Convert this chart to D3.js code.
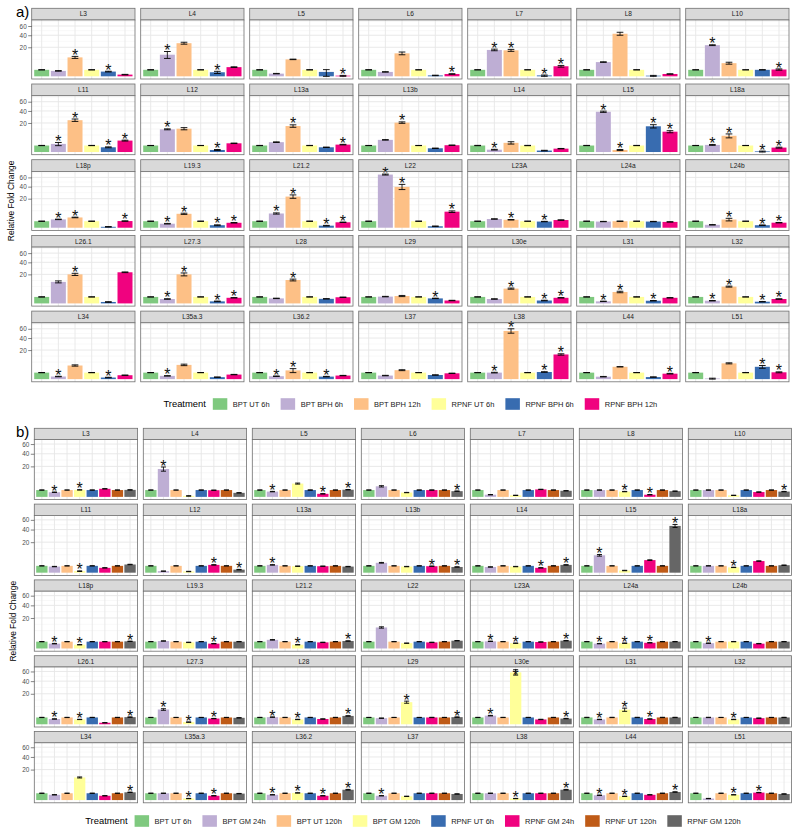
<!DOCTYPE html>
<html><head><meta charset="utf-8">
<script src="https://cdn.jsdelivr.net/npm/d3@7"></script>
<style>body{margin:0;background:#fff} svg{display:block;font-family:"Liberation Sans",Arial,Helvetica,sans-serif}</style>
</head><body>
<script>
// ---------------- data ----------------
const genes = ["L3","L4","L5","L6","L7","L8","L10","L11","L12","L13a","L13b","L14","L15","L18a","L18p","L19.3","L21.2","L22","L23A","L24a","L24b","L26.1","L27.3","L28","L29","L30e","L31","L32","L34","L35a.3","L36.2","L37","L38","L44","L51"];
const yTickValues = [20, 40, 60];

const seriesA = ["BPT UT 6h","BPT BPH 6h","BPT BPH 12h","RPNF UT 6h","RPNF BPH 6h","RPNF BPH 12h"];
const seriesB = ["BPT UT 6h","BPT GM 24h","BPT UT 120h","BPT GM 120h","RPNF UT 6h","RPNF GM 24h","RPNF UT 120h","RPNF GM 120h"];
const coloursA = ["#7fc97f","#beaed4","#fdc086","#ffff99","#386cb0","#f0027f"];
const coloursB = ["#7fc97f","#beaed4","#fdc086","#ffff99","#386cb0","#f0027f","#bf5b17","#666666"];

// control (calibrator) groups: fold change 1
const controlFold = [1,1,1,1,1,1,1, 1,1,1,1,1,1,1, 1,1,1,1,1,1,1, 1,1,1,1,1,1,1, 1,1,1,1,1,1,1];
const controlErr  = [.04,.03,.05,.04,.03,.04,.03, .04,.03,.04,.03,.05,.04,.03, .04,.03,.04,.05,.03,.04,.03, .04,.03,.04,.03,.04,.05,.03, .04,.03,.04,.03,.04,.03,.04];

// panel a)
const aBptBph6h   = [0.7,11.1,0.17,0.46,16.5,4.8,23, 1.56,12.2,2.3,3.5,0.13,38.4,1.2, 1.65,0.38,4.8,67,1.8,0.9,0.2, 11,0.46,0.6,1.1,0.46,0.1,0.17, 0.16,0.25,0.2,0.3,1.0,0.14,0.01];
const aBptBph12h  = [8.5,26,6.8,12.5,16,43,4.1, 24,12.9,16,20.5,2.0,0.1,6.25, 2.5,4.6,23,39.5,1.5,1.0,1.6, 20,20,13,1.3,5.2,3.1,6.7, 4.4,4.8,1.8,1.9,55,3.6,5.9];
const aRpnfBph6h  = [0.53,0.39,0.46,0.02,0.02,0.01,1.0, 0.53,0.1,0.53,0.33,0.05,15.7,0.01, 0.02,0.15,0.1,0.05,0.9,0.9,0.15, 0.05,0.1,0.5,0.6,0.2,0.17,0.07, 0.06,0.09,0.15,0.4,1.2,0.1,3.6];
const aRpnfBph12h = [0.07,2.0,0.01,0.13,2.4,0.13,1.1, 3.1,1.8,1.3,1.1,0.27,9.8,0.46, 1.05,0.58,0.7,6.1,1.4,0.8,0.6, 23,0.75,0.9,0.2,0.75,0.75,0.46, 0.36,0.49,0.3,0.8,14.4,0.7,1.1];
const aBptBph6hErr   = [.08,3.5,.03,.05,1.0,.2,.6, .6,.5,.15,.15,.04,1.2,.15, .1,.06,.4,1.2,.1,.05,.03, 1.0,.05,.05,.08,.05,.02,.03, .03,.03,.03,.04,.1,.03,.01];
const aBptBph12hErr  = [.9,1.5,.2,1.5,1.2,3,.6, 1.8,1.2,1.5,1,.5,.05,1.5, .15,.4,2.5,5,.1,.05,.5, 1.5,2,1.0,.2,.4,.4,.4, .4,.5,.8,.2,5,.1,.4];
const aRpnfBph6hErr  = [.08,.2,.6,.01,.02,.01,.05, .1,.05,.05,.04,.02,2.0,.01, .01,.05,.03,.02,.06,.05,.03, .02,.03,.04,.05,.04,.03,.02, .02,.02,.03,.04,.1,.02,.8];
const aRpnfBph12hErr = [.02,.15,.01,.03,.4,.02,.2, .25,.1,.1,.05,.03,1.0,.1, .08,.06,.06,.6,.06,.05,.05, .5,.05,.05,.03,.05,.05,.05, .03,.04,.03,.05,.8,.08,.15];
// significance flags, one character per treatment ("*" = significant)
const aSignif = ["..*.*.",".*..*.",".....*",".....*",".**.**","......",".*...*",
                 ".**.**",".*..*.","..*..*","..*...",".*....",".**.**",".**.**",
                 ".**..*",".**.**",".**.**",".**..*","..*.*.","......","..*.**",
                 "..*...",".**.**","..*...","....*.","..*.**",".**.*.",".**.**",
                 ".*..*.",".*....",".**.*.","......",".**.**",".....*","....**"];

// panel b)
const bBptGm24h    = [0.46,16.7,0.6,2.4,0.1,1.0,1.0, 0.8,0.05,1.3,2.1,0.7,6.5,1.0, 0.5,1.2,1.6,9.5,1.1,0.5,0.6, 0.6,4.7,1.1,0.8,1.6,0.5,1.0, 0.6,1.0,0.6,0.4,1.0,0.5,0.05];
const bBptGm120h   = [1.05,0.02,3.8,0.4,0.05,0.6,0.05, 0.05,0.03,0.9,0.8,0.8,0.1,0.6, 0.3,0.8,0.3,0.6,0.6,0.6,1.0, 0.5,0.1,0.5,10.5,58,4.6,0.5, 11,0.05,1.1,0.3,0.05,0.3,0.6];
const bRpnfGm24h   = [1.4,0.95,0.2,1.0,1.2,0.1,0.5, 0.5,1.3,0.9,0.9,0.5,3.4,2.9, 1.0,0.5,0.8,0.8,0.9,0.7,0.5, 0.05,0.7,0.6,1.0,0.5,0.6,0.8, 0.4,0.4,0.4,1.0,1.0,0.6,1.2];
const bRpnfGm120h  = [1.05,0.35,1.1,0.7,0.8,0.7,0.6, 1.44,0.2,0.8,0.7,1.3,47,1.2, 1.1,1.0,1.2,1.3,1.3,1.0,1.0, 1.1,0.9,1.5,1.1,0.7,1.0,1.0, 1.3,0.9,2.3,0.8,2.3,1.4,0.8];
const bBptGm24hErr   = [.05,2.5,.05,.3,.02,.05,.05, .05,.01,.08,.15,.05,.6,.05, .05,.06,.1,.6,.06,.04,.04, .04,.5,.06,.05,.1,.04,.05, .04,.05,.04,.03,.05,.04,.01];
const bBptGm120hErr  = [.05,.01,.3,.03,.01,.04,.01, .02,.01,.05,.05,.05,.02,.04, .03,.05,.03,.04,.04,.04,.05, .03,.02,.04,1.0,6,1.0,.04, .5,.01,.06,.03,.01,.03,.04];
const bRpnfGm24hErr  = [.06,.05,.03,.05,.06,.02,.04, .04,.08,.05,.05,.04,.15,.12, .05,.04,.05,.05,.05,.04,.04, .01,.04,.04,.05,.04,.04,.05, .03,.03,.03,.05,.05,.04,.06];
const bRpnfGm120hErr = [.05,.03,.06,.05,.05,.05,.04, .08,.03,.05,.04,.07,3,.06, .06,.05,.06,.06,.07,.05,.05, .06,.05,.08,.06,.05,.05,.05, .07,.05,.15,.05,.15,.08,.05];
const bSignif = [".*.*....",".*......",".*...*.*",".......*","........","...*.*..",".......*",
                 "...*....",".....*.*",".*......",".....*.*",".....*.*",".*.....*","...*....",
                 ".*.*...*",".....*..","...*...*","........",".*.*...*",".*.*.*..",".*......",
                 ".*.*...*",".*.*.*..",".*.*...*","...*...*",".*.*...*",".*.*.*..","...*....",
                 ".......*","...*.*..",".*.*.*.*",".*......","...*...*",".*.*...*","...*.*.."];

// ---------------- drawing ----------------
const W = 797, H = 835;
const svg = d3.select("body").append("svg").attr("width", W).attr("height", H);

function drawFigure(o) {
  const g = svg.append("g");
  const allTops = [];
  o.values.forEach((vals, s) => vals.forEach((v, i) => allTops.push(v + o.errs[s][i])));
  const M = Math.sqrt(d3.max(allTops));
  const yTop = Math.pow(1.05 * M, 2);
  const y = d3.scaleSqrt().domain([0, yTop]).range([o.panelH * 1.05 / 1.1, 0]);
  const x = d3.scaleBand().domain(o.series).range([0, o.colW]).paddingInner(0.1).paddingOuter(0.15);
  const colour = d3.scaleOrdinal().domain(o.series).range(o.colours);

  // minor gridlines (ggplot-style midpoints on the sqrt scale)
  const sb = o.ticks.map(Math.sqrt);
  const ext = [sb[0] - (sb[1] - sb[0]), ...sb, sb[sb.length - 1] + (sb[sb.length - 1] - sb[sb.length - 2])];
  const minorS = [];
  for (let i = 0; i < ext.length - 1; i++) { minorS.push(ext[i]); minorS.push((ext[i] + ext[i + 1]) / 2); }
  minorS.push(ext[ext.length - 1]);
  const minorVals = minorS.filter(s => !sb.some(b => Math.abs(b - s) < 1e-9)).map(s => s * s).filter(v => v <= yTop);

  o.genes.forEach((gene, i) => {
    const col = i % 7, row = Math.floor(i / 7);
    const fg = g.append("g").attr("transform", `translate(${o.x0 + col * o.pitch},${o.rowTops[row]})`);
    fg.append("rect").attr("width", o.colW).attr("height", o.stripH)
      .attr("fill", "#d9d9d9").attr("stroke", "#707070").attr("stroke-width", 0.8);
    fg.append("text").attr("x", o.colW / 2).attr("y", o.stripH / 2 + 2.3)
      .attr("text-anchor", "middle").attr("font-size", 6.6).attr("fill", "#1a1a1a").text(gene);

    const pg = fg.append("g").attr("transform", `translate(0,${o.stripH})`);
    pg.append("rect").attr("width", o.colW).attr("height", o.panelH).attr("fill", "#fff");
    pg.selectAll(".mn").data(minorVals).join("line")
      .attr("x1", 0).attr("x2", o.colW).attr("y1", d => y(d)).attr("y2", d => y(d))
      .attr("stroke", "#f0f0f0").attr("stroke-width", 0.5);
    pg.selectAll(".mj").data(o.ticks).join("line")
      .attr("x1", 0).attr("x2", o.colW).attr("y1", d => y(d)).attr("y2", d => y(d))
      .attr("stroke", "#e6e6e6").attr("stroke-width", 0.9);
    pg.selectAll(".vg").data(o.series).join("line")
      .attr("x1", d => x(d) + x.bandwidth() / 2).attr("x2", d => x(d) + x.bandwidth() / 2)
      .attr("y1", 0).attr("y2", o.panelH).attr("stroke", "#e6e6e6").attr("stroke-width", 0.9);

    const rows = o.series.map((s, k) => ({ s, v: o.values[k][i], e: o.errs[k][i], sig: o.signif[i][k] === "*" }));
    pg.selectAll(".bar").data(rows).join("rect")
      .attr("x", d => x(d.s)).attr("width", x.bandwidth())
      .attr("y", d => y(d.v)).attr("height", d => y(0) - y(d.v))
      .attr("fill", d => colour(d.s));
    const cap = x.step() * 0.2;
    rows.forEach(d => {
      const cx = x(d.s) + x.bandwidth() / 2;
      const lo = y(Math.max(0, d.v - d.e)), hi = y(d.v + d.e);
      pg.append("line").attr("x1", cx).attr("x2", cx).attr("y1", lo).attr("y2", hi).attr("stroke", "#000").attr("stroke-width", 0.8);
      pg.append("line").attr("x1", cx - cap).attr("x2", cx + cap).attr("y1", lo).attr("y2", lo).attr("stroke", "#000").attr("stroke-width", 0.9);
      pg.append("line").attr("x1", cx - cap).attr("x2", cx + cap).attr("y1", hi).attr("y2", hi).attr("stroke", "#000").attr("stroke-width", 0.9);
      if (d.sig) {
        const centre = Math.max(hi - 4.5, o.starMin);
        pg.append("text").attr("x", cx).attr("y", centre + 9.1).attr("text-anchor", "middle")
          .attr("font-size", 16).attr("fill", "#111").text("*");
      }
    });
    pg.append("rect").attr("width", o.colW).attr("height", o.panelH)
      .attr("fill", "none").attr("stroke", "#707070").attr("stroke-width", 0.8);

    if (col === 0) {
      const ax = pg.append("g").call(d3.axisLeft(y).tickValues(o.ticks).tickSize(3.5).tickPadding(1.5));
      ax.select(".domain").remove();
      ax.selectAll("line").attr("stroke", "#333").attr("stroke-width", 0.6);
      ax.selectAll("text").attr("font-size", 6.4).attr("fill", "#4d4d4d").attr("font-family", "Liberation Sans, Arial, sans-serif");
    }
  });

  // panel letter
  g.append("text").attr("x", 16).attr("y", o.labelY).attr("font-size", 15).attr("fill", "#000").text(o.label);
  // y title
  const yc = o.rowTops[0] + o.stripH + (o.rowTops[4] + o.stripH + o.panelH - o.rowTops[0] - o.stripH) / 2;
  g.append("text").attr("transform", `translate(${o.yTitleX},${yc}) rotate(-90)`)
    .attr("text-anchor", "middle").attr("font-size", 8.4).attr("fill", "#000").text("Relative Fold Change");

  // legend
  const lg = g.append("g");
  const title = lg.append("text").attr("x", 0).attr("y", 3.4).attr("font-size", 9.4).attr("fill", "#000").text("Treatment");
  let cx = title.node().getComputedTextLength() + 7;
  o.series.forEach(s => {
    lg.append("rect").attr("x", cx).attr("y", -5.8).attr("width", 14.5).attr("height", 11.6).attr("fill", colour(s));
    const t = lg.append("text").attr("x", cx + 14.5 + 5.5).attr("y", 2.7).attr("font-size", 7.5).attr("fill", "#1a1a1a").text(s);
    cx += 14.5 + 5.5 + t.node().getComputedTextLength() + 11;
  });
  const total = cx - 11;
  const centre = o.x0 + (6 * o.pitch + o.colW) / 2;
  lg.attr("transform", `translate(${centre - total / 2},${o.legendY})`);
}

drawFigure({
  label: "a)", labelY: 17, genes, series: seriesA, colours: coloursA, ticks: yTickValues,
  values: [controlFold, aBptBph6h, aBptBph12h, controlFold, aRpnfBph6h, aRpnfBph12h],
  errs: [controlErr, aBptBph6hErr, aBptBph12hErr, controlErr, aRpnfBph6hErr, aRpnfBph12hErr],
  signif: aSignif, starMin: -5,
  x0: 31.7, pitch: 109, colW: 103.3, rowTops: [8.3, 84, 159.7, 235.4, 311.1], stripH: 11.7, panelH: 59,
  legendY: 404, yTitleX: 13.5
});
drawFigure({
  label: "b)", labelY: 436.5, genes, series: seriesB, colours: coloursB, ticks: yTickValues,
  values: [controlFold, bBptGm24h, controlFold, bBptGm120h, controlFold, bRpnfGm24h, controlFold, bRpnfGm120h],
  errs: [controlErr, bBptGm24hErr, controlErr, bBptGm120hErr, controlErr, bRpnfGm24hErr, controlErr, bRpnfGm120hErr],
  signif: bSignif, starMin: 5,
  x0: 34.3, pitch: 109, colW: 103.3, rowTops: [428.3, 504.1, 579.9, 655.7, 731.5], stripH: 11.3, panelH: 60,
  legendY: 821, yTitleX: 16
});
</script>
</body></html>
